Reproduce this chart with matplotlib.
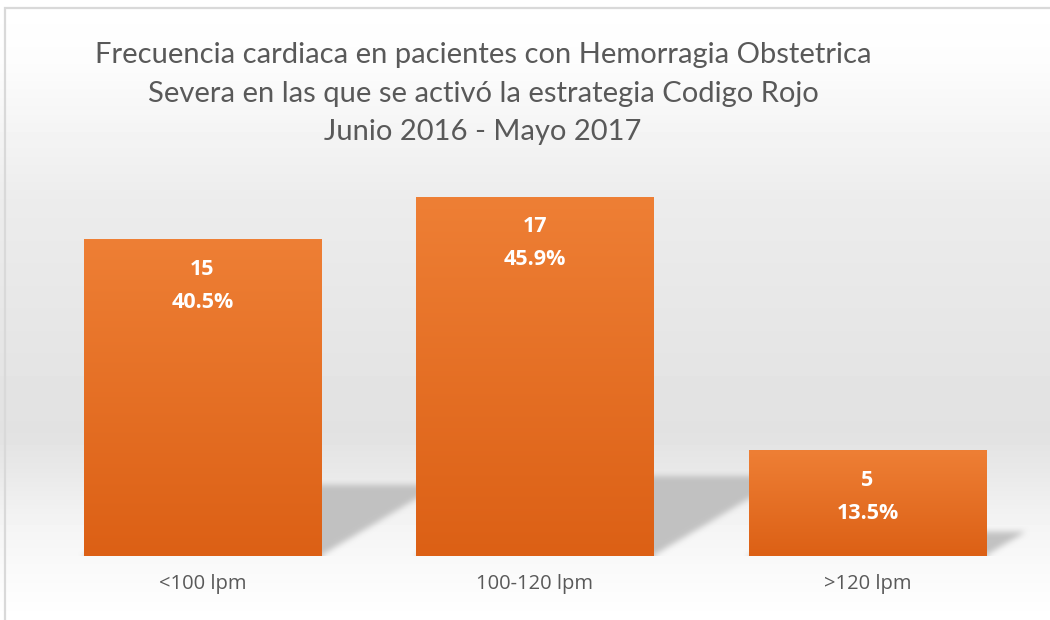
import numpy as np
import matplotlib
matplotlib.use("Agg")
import matplotlib.pyplot as plt
from matplotlib.colors import LinearSegmentedColormap
from matplotlib.patches import Rectangle

categories = ["<100 lpm", "100-120 lpm", ">120 lpm"]
counts = [15, 17, 5]
percents = ["40.5%", "45.9%", "13.5%"]
title_lines = [
    "Frecuencia cardiaca en pacientes con Hemorragia Obstetrica",
    "Severa en las que se activó la estrategia Codigo Rojo",
    "Junio 2016 - Mayo 2017",
]

W, H = 1050, 620


def blur1d(a, r, axis):
    a = np.moveaxis(a, axis, -1)
    pad = np.pad(a, [(0, 0), (r + 1, r)], mode="edge")
    c = np.cumsum(pad, axis=-1)
    out = (c[:, 2 * r + 1:] - c[:, :-2 * r - 1]) / (2 * r + 1)
    return np.moveaxis(out, -1, axis)


def main():
    fig = plt.figure(figsize=(W / 100, H / 100), dpi=100)

    # background: soft vertical gradient
    bg = fig.add_axes([0, 0, 1, 1], zorder=-5)
    rows = np.arange(H)
    stops_y = [0, 60, 200, 430, 468, 520, 560, 620]
    stops_v = [1.0, 0.99, 0.925, 0.885, 0.91, 0.955, 0.975, 1.0]
    shade = np.interp(rows, stops_y, stops_v)[:, None]
    bg.imshow(shade, cmap="gray", vmin=0, vmax=1, aspect="auto",
              extent=[0, 1, 0, 1], origin="upper")
    bg.axis("off")

    ax = fig.add_axes([36.25 / W, 64 / H, 997.5 / W, 380 / H], zorder=1)
    ax.set_facecolor("none")
    x = np.arange(len(categories))
    width = 0.713

    bars = ax.bar(x, counts, width=width, color="none", zorder=3)

    orange = LinearSegmentedColormap.from_list("o", ["#DC6015", "#EE7F35"])
    grad = np.linspace(1, 0, 256)[:, None]
    for b in bars:
        im = ax.imshow(grad, cmap=orange, aspect="auto", zorder=3,
                       extent=[b.get_x(), b.get_x() + b.get_width(), 0, b.get_height()])
        im.set_clip_path(b)

    # floor shadows cast behind each bar
    ny, nx = 130, 1000
    ymax_s = 6.0
    xs = np.linspace(-0.5, 2.5, nx)
    ys = np.linspace(0, ymax_s, ny)
    X, Y = np.meshgrid(xs, ys)
    mask = np.zeros_like(X)
    k = 0.106
    for b in bars:
        h = 0.224 * b.get_height()
        x0 = b.get_x()
        x1 = x0 + b.get_width()
        inside = (Y <= h) & (X >= x0 + k * Y) & (X <= x1 + k * Y)
        mask[inside] = 1.0
    for _ in range(2):
        mask = blur1d(mask, 3, 1)
        mask = blur1d(mask, 3, 0)
    rgba = np.zeros((ny, nx, 4))
    rgba[..., :3] = 0.75
    rgba[..., 3] = mask * 0.95
    ax.imshow(rgba, extent=[-0.5, 2.5, 0, ymax_s], origin="lower",
              aspect="auto", zorder=2)

    lab_font = ["Open Sans", "DejaVu Sans"]
    for i, b in enumerate(bars):
        cx = b.get_x() + b.get_width() / 2
        top = b.get_height()
        ax.annotate(str(counts[i]), (cx, top), xytext=(0, -21.5), textcoords="offset points",
                    ha="center", va="center", color="white", fontsize=15.5,
                    fontweight="bold", family=lab_font, zorder=4)
        ax.annotate(percents[i], (cx, top), xytext=(0, -45.2), textcoords="offset points",
                    ha="center", va="center", color="white", fontsize=15.5,
                    fontweight="bold", family=lab_font, zorder=4)

    ax.set_xlim(-0.5, 2.5)
    ax.set_ylim(0, 18)
    ax.set_xticks(x)
    ax.set_xticklabels(categories, fontsize=14.5, color="#595959", family=lab_font)
    ax.tick_params(axis="x", length=0, pad=13)
    ax.set_yticks([])
    for s in ax.spines.values():
        s.set_visible(False)

    baselines = [63, 102, 140]
    for line, yb in zip(title_lines, baselines):
        fig.text(483 / W, 1 - yb / H, line, ha="center", va="baseline",
                 fontsize=21, color="#595959", family=["Lato", "DejaVu Sans"])

    fig.add_artist(Rectangle((4.5 / W, -0.1), 1.2, 1.1 - 8.5 / H, transform=fig.transFigure,
                             fill=False, ec="#d9d9d9", lw=1.6, zorder=10))

    fig.savefig("out.png", dpi=100)


if __name__ == "__main__":
    main()
